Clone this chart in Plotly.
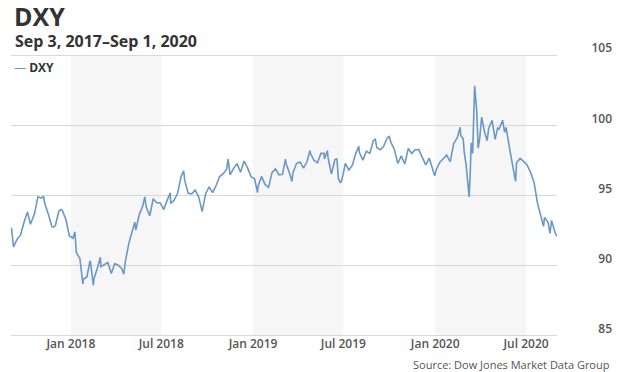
import plotly.graph_objects as go

# ---------------- data ----------------
dates = [
    "2017-09-04", "2017-09-08", "2017-09-15", "2017-09-22", "2017-09-29",
    "2017-10-06", "2017-10-12", "2017-10-20", "2017-10-27", "2017-11-03",
    "2017-11-07", "2017-11-10", "2017-11-17", "2017-11-24", "2017-11-27",
    "2017-12-01", "2017-12-08", "2017-12-12", "2017-12-15", "2017-12-22",
    "2017-12-29", "2018-01-05", "2018-01-09", "2018-01-12", "2018-01-19",
    "2018-01-25", "2018-01-26", "2018-02-02", "2018-02-08", "2018-02-09",
    "2018-02-15", "2018-02-16", "2018-02-23", "2018-03-01", "2018-03-02",
    "2018-03-09", "2018-03-16", "2018-03-23", "2018-03-30", "2018-04-06",
    "2018-04-13", "2018-04-17", "2018-04-20", "2018-04-27", "2018-05-04",
    "2018-05-09", "2018-05-11", "2018-05-18", "2018-05-25", "2018-05-29",
    "2018-06-01", "2018-06-08", "2018-06-15", "2018-06-22", "2018-06-29",
    "2018-07-06", "2018-07-13", "2018-07-19", "2018-07-20", "2018-07-27",
    "2018-08-03", "2018-08-10", "2018-08-15", "2018-08-17", "2018-08-24",
    "2018-08-31", "2018-09-07", "2018-09-14", "2018-09-21", "2018-09-28",
    "2018-10-05", "2018-10-12", "2018-10-19", "2018-10-26", "2018-11-02",
    "2018-11-09", "2018-11-12", "2018-11-16", "2018-11-23", "2018-11-30",
    "2018-12-07", "2018-12-14", "2018-12-21", "2018-12-28", "2019-01-04",
    "2019-01-10", "2019-01-11", "2019-01-18", "2019-01-25", "2019-02-01",
    "2019-02-08", "2019-02-15", "2019-02-22", "2019-03-01", "2019-03-07",
    "2019-03-08", "2019-03-15", "2019-03-20", "2019-03-22", "2019-03-29",
    "2019-04-05", "2019-04-12", "2019-04-19", "2019-04-25", "2019-04-26",
    "2019-05-03", "2019-05-10", "2019-05-17", "2019-05-23", "2019-05-24",
    "2019-05-30", "2019-05-31", "2019-06-07", "2019-06-14", "2019-06-18",
    "2019-06-21", "2019-06-25", "2019-06-28", "2019-07-05", "2019-07-12",
    "2019-07-19", "2019-07-26", "2019-08-01", "2019-08-02", "2019-08-09",
    "2019-08-16", "2019-08-23", "2019-08-30", "2019-09-03", "2019-09-06",
    "2019-09-13", "2019-09-20", "2019-09-27", "2019-10-01", "2019-10-04",
    "2019-10-11", "2019-10-18", "2019-10-25", "2019-11-01", "2019-11-08",
    "2019-11-15", "2019-11-22", "2019-11-29", "2019-12-06", "2019-12-13",
    "2019-12-20", "2019-12-31", "2020-01-03", "2020-01-10", "2020-01-17",
    "2020-01-24", "2020-01-31", "2020-02-07", "2020-02-14", "2020-02-20",
    "2020-02-21", "2020-02-26", "2020-02-28", "2020-03-03", "2020-03-06",
    "2020-03-09", "2020-03-11", "2020-03-13", "2020-03-16", "2020-03-18",
    "2020-03-19", "2020-03-20", "2020-03-24", "2020-03-27", "2020-03-30",
    "2020-04-03", "2020-04-09", "2020-04-14", "2020-04-17", "2020-04-24",
    "2020-04-30", "2020-05-05", "2020-05-08", "2020-05-15", "2020-05-19",
    "2020-05-22", "2020-05-29", "2020-06-05", "2020-06-10", "2020-06-12",
    "2020-06-19", "2020-06-26", "2020-07-03", "2020-07-10", "2020-07-17",
    "2020-07-24", "2020-07-31", "2020-08-05", "2020-08-07", "2020-08-14",
    "2020-08-18", "2020-08-21", "2020-08-28", "2020-09-01",
]
dxy = [
    92.7, 91.33, 91.87, 92.17, 93.07,
    93.83, 92.95, 93.69, 94.91, 94.81,
    94.95, 94.39, 93.65, 92.78, 92.75,
    92.86, 93.90, 94.0, 93.92, 93.29,
    92.12, 91.96, 92.4, 90.93, 90.52,
    88.7, 89.03, 89.20, 90.3, 90.33,
    88.6, 89.06, 89.82, 90.6, 89.93,
    90.10, 90.23, 89.45, 90.15, 90.03,
    89.79, 89.4, 90.28, 91.57, 92.54,
    93.1, 92.54, 93.64, 94.25, 94.9,
    94.17, 93.56, 94.77, 94.49, 94.47,
    94.00, 94.67, 95.2, 94.44, 94.67,
    95.17, 96.38, 96.75, 96.09, 95.15,
    95.12, 95.38, 94.91, 93.85, 95.13,
    95.61, 95.21, 95.71, 96.35, 96.53,
    96.88, 97.6, 96.47, 96.93, 97.27,
    96.66, 97.45, 96.97, 96.34, 96.19,
    95.2, 95.66, 96.36, 95.79, 95.58,
    96.63, 96.90, 96.47, 96.51, 97.6,
    97.30, 96.59, 96.0, 96.63, 97.28,
    97.39, 96.95, 97.40, 98.2, 98.01,
    97.51, 97.33, 98.00, 98.0, 97.60,
    98.2, 97.75, 96.53, 97.56, 97.6,
    96.20, 95.9, 96.13, 97.28, 96.82,
    97.16, 98.02, 98.5, 98.07, 97.52,
    98.15, 98.00, 98.92, 99.0, 98.40,
    98.26, 98.52, 99.11, 99.2, 98.80,
    98.30, 97.28, 97.82, 97.24, 98.35,
    98.00, 98.26, 98.27, 97.69, 97.18,
    97.66, 96.4, 96.84, 97.35, 97.62,
    97.87, 97.39, 98.69, 99.10, 99.86,
    99.27, 99.05, 98.13, 97.14, 95.99,
    94.9, 96.50, 98.75, 98.0, 101.2,
    102.8, 102.82, 101.1, 98.37, 99.03,
    100.58, 99.5, 98.9, 99.77, 100.36,
    99.0, 99.8, 99.73, 100.36, 99.5,
    99.86, 98.34, 96.94, 96.0, 97.33,
    97.64, 97.43, 97.18, 96.65, 95.93,
    94.44, 93.35, 92.8, 93.44, 93.09,
    92.3, 93.23, 92.36, 92.11,
]

y_tick_values = [85, 90, 95, 100, 105]
x_tick_dates = ["2018-01-01", "2018-07-01", "2019-01-01",
                "2019-07-01", "2020-01-01", "2020-07-01"]
x_tick_labels = ["Jan 2018", "Jul 2018", "Jan 2019",
                 "Jul 2019", "Jan 2020", "Jul 2020"]
shade_starts = ["2018-01-01", "2019-01-01", "2020-01-01"]
shade_ends = ["2018-07-01", "2019-07-01", "2020-07-01"]

title_text = "DXY"
subtitle_text = "Sep 3, 2017–Sep 1, 2020"
source_text = "Source: Dow Jones Market Data Group"

# ---------------- layout geometry ----------------
W, H = 620, 372
ML, MR, MT, MB = 11, 8, 53, 34
PW = W - ML - MR
PH = H - MT - MB
PLOT_RIGHT = 557


def px(xp):
    return (xp - ML) / PW


def py(yp):
    return (H - MB - yp) / PH


LINE_COLOR = "#6a98c6"
FONT = "Open Sans"

fig = go.Figure()
fig.add_trace(go.Scatter(
    x=dates, y=dxy, mode="lines", name="DXY",
    line=dict(color=LINE_COLOR, width=1.6),
    showlegend=False, hoverinfo="x+y",
))

shapes = []
for s, e in zip(shade_starts, shade_ends):
    shapes.append(dict(type="rect", xref="x", yref="y", x0=s, x1=e,
                       y0=y_tick_values[0], y1=y_tick_values[-1],
                       fillcolor="#f6f6f6", line=dict(width=0),
                       layer="below"))

annotations = [
    dict(text="<b>" + title_text + "</b>", x=px(12), y=py(16), xref="paper", yref="paper",
         xanchor="left", yanchor="middle", showarrow=False,
         font=dict(family=FONT, size=25, color="#333333")),
    dict(text="<b>" + subtitle_text + "</b>", x=px(13), y=py(41), xref="paper", yref="paper",
         xanchor="left", yanchor="middle", showarrow=False,
         font=dict(family=FONT, size=16, color="#333333")),
    dict(text="<span style='color:" + LINE_COLOR + "'>—</span> <b>DXY</b>",
         x=px(12), y=py(67), xref="paper", yref="paper",
         xanchor="left", yanchor="middle", showarrow=False,
         font=dict(family=FONT, size=12, color="#333333")),
    dict(text=source_text, x=px(612), y=py(364), xref="paper", yref="paper",
         xanchor="right", yanchor="middle", showarrow=False,
         font=dict(family=FONT, size=11, color="#555555")),
]

fig.update_layout(
    template="none",
    width=W, height=H,
    margin=dict(l=ML, r=MR, t=MT, b=MB, pad=0, autoexpand=False),
    paper_bgcolor="white", plot_bgcolor="white",
    showlegend=False,
    shapes=shapes,
    annotations=annotations,
    font=dict(family=FONT, color="#555555"),
    xaxis=dict(
        type="date", domain=[0, (PLOT_RIGHT - ML) / PW],
        range=["2017-09-03", "2020-09-01"], automargin=False,
        tickmode="array", tickvals=x_tick_dates, ticktext=x_tick_labels,
        showgrid=False, zeroline=False, showline=False, ticks="",
        ticklabelstandoff=-3,
        tickfont=dict(family=FONT, size=12, color="#555555", weight=600),
    ),
    yaxis=dict(
        range=[84.85, 105.15], tickmode="array", tickvals=y_tick_values,
        ticktext=[str(v) for v in y_tick_values], automargin=False,
        side="left", anchor="free", position=1.0,
        showgrid=True, gridcolor="#d8d8d8", gridwidth=1,
        zeroline=False, showline=False, ticks="",
        ticklabelshift=-7, ticklabelstandoff=0,
        tickfont=dict(family=FONT, size=12, color="#555555", weight=600),
    ),
)

fig.write_html(
    "out.html",
    config={"displayModeBar": False},
    post_script="document.body.style.margin='0';document.body.style.overflow='hidden';",
)
